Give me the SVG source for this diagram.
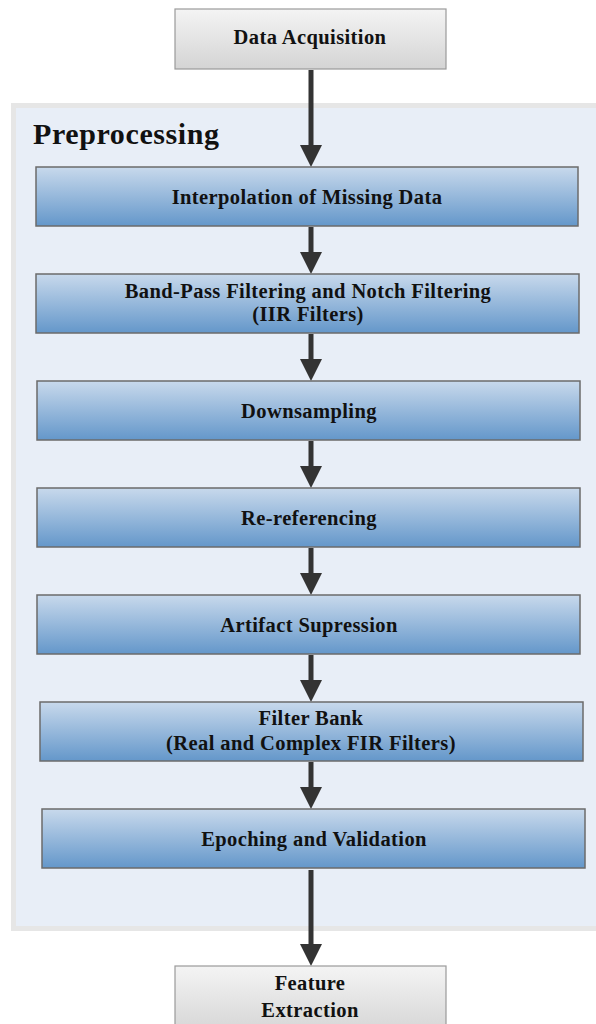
<svg xmlns="http://www.w3.org/2000/svg" width="596" height="1024" viewBox="0 0 596 1024">
<style>
text{font-family:"Liberation Serif","DejaVu Serif",serif;font-weight:bold;fill:#111;text-anchor:middle}
.t{font-size:20.5px;letter-spacing:0.4px}
.blue{fill:url(#gb);stroke:#6b6b6b;stroke-width:1.5}
.gray{fill:url(#gg);stroke:#9a9a9a;stroke-width:1.2}
.ln{stroke:#333;stroke-width:5;fill:none}
.hd{fill:#333}
</style>
<defs>
<linearGradient id="gb" x1="0" y1="0" x2="0" y2="1">
<stop offset="0" stop-color="#c8d9ec"/>
<stop offset="1" stop-color="#6497ca"/>
</linearGradient>
<linearGradient id="gg" x1="0" y1="0" x2="0" y2="1">
<stop offset="0" stop-color="#f4f4f4"/>
<stop offset="1" stop-color="#d4d4d4"/>
</linearGradient>
</defs>
<rect width="596" height="1024" fill="#fff"/>
<g id="preprocessing">
<rect x="11" y="103" width="600" height="828" fill="#e6e6e6"/>
<rect x="16" y="108" width="600" height="818" fill="#e8eef7"/>
<text x="33" y="144" style="font-size:30px;letter-spacing:0.6px;text-anchor:start">Preprocessing</text>
</g>
<g id="connectors">
<line class="ln" x1="311" y1="70" x2="311" y2="148"/><polygon class="hd" points="300,145 322,145 311,167"/>
<line class="ln" x1="311" y1="227" x2="311" y2="255"/><polygon class="hd" points="300,252 322,252 311,274"/>
<line class="ln" x1="311" y1="334" x2="311" y2="362"/><polygon class="hd" points="300,359 322,359 311,381"/>
<line class="ln" x1="311" y1="441" x2="311" y2="469"/><polygon class="hd" points="300,466 322,466 311,488"/>
<line class="ln" x1="311" y1="548" x2="311" y2="576"/><polygon class="hd" points="300,573 322,573 311,595"/>
<line class="ln" x1="311" y1="655" x2="311" y2="683"/><polygon class="hd" points="300,680 322,680 311,702"/>
<line class="ln" x1="311" y1="762" x2="311" y2="790"/><polygon class="hd" points="300,787 322,787 311,809"/>
<line class="ln" x1="311" y1="870" x2="311" y2="947"/><polygon class="hd" points="300,944 322,944 311,966"/>
</g>
<g id="data-acquisition">
<rect class="gray" x="175" y="9" width="271" height="60"/>
<text class="t" x="310" y="44">Data Acquisition</text>
</g>
<g id="interpolation">
<rect class="blue" x="36" y="167" width="542" height="59"/>
<text class="t" x="307" y="204">Interpolation of Missing Data</text>
</g>
<g id="bandpass">
<rect class="blue" x="36" y="274" width="543" height="59"/>
<text class="t" x="308" y="298">Band-Pass Filtering and Notch Filtering</text>
<text class="t" x="308" y="321">(IIR Filters)</text>
</g>
<g id="downsampling">
<rect class="blue" x="37" y="381" width="543" height="59"/>
<text class="t" x="309" y="418">Downsampling</text>
</g>
<g id="rereferencing">
<rect class="blue" x="37" y="488" width="543" height="59"/>
<text class="t" x="309" y="525">Re-referencing</text>
</g>
<g id="artifact">
<rect class="blue" x="37" y="595" width="543" height="59"/>
<text class="t" x="309" y="632">Artifact Supression</text>
</g>
<g id="filterbank">
<rect class="blue" x="40" y="702" width="543" height="59"/>
<text class="t" x="311" y="725">Filter Bank</text>
<text class="t" x="311" y="750">(Real and Complex FIR Filters)</text>
</g>
<g id="epoching">
<rect class="blue" x="42" y="809" width="543" height="59"/>
<text class="t" x="314" y="846">Epoching and Validation</text>
</g>
<g id="feature-extraction">
<rect class="gray" x="175" y="966" width="271" height="70"/>
<text class="t" x="310" y="990">Feature</text>
<text class="t" x="310" y="1017">Extraction</text>
</g>
</svg>
